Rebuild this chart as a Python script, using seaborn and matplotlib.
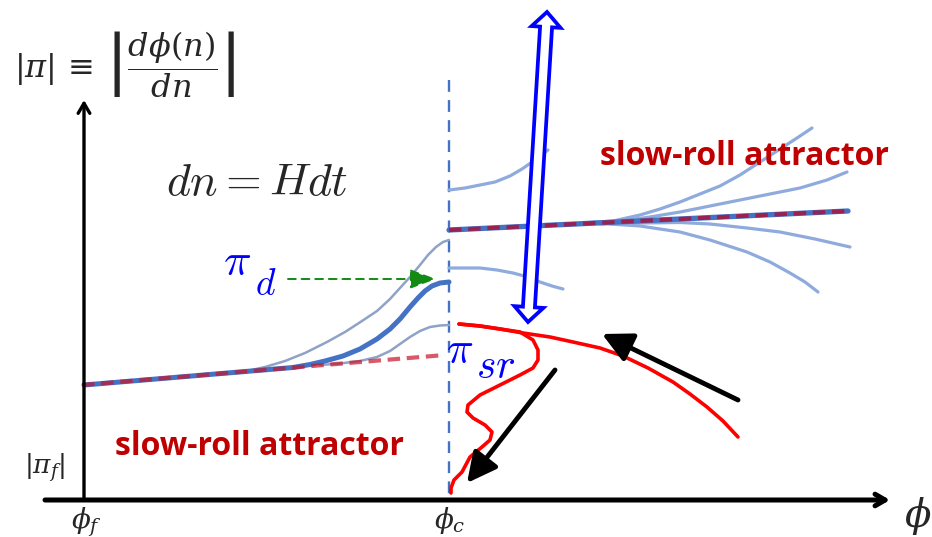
import numpy as np
import pandas as pd
import matplotlib
matplotlib.use("Agg")
import matplotlib.pyplot as plt
from matplotlib.patches import Polygon
import seaborn as sns

sns.set_theme(style="white")
plt.rcParams["font.family"] = ["Open Sans", "DejaVu Sans"]

# ---- phase-space trajectories (phi on x, |pi| on y; canvas units) ----
# slow-roll attractor before phi_c
attr_left_x = [82, 445]
attr_left_y = [385, 355]
# trajectory that reaches pi_d at phi_c
pid_x = [84, 150, 200, 250, 293, 310, 325, 343, 360, 377, 390, 400, 410, 418, 425, 432, 440, 449]
pid_y = [385, 379.5, 375.3, 371.1, 367.5, 364.5, 361, 356, 349, 339, 329, 319, 307, 298, 291, 286, 283, 282]
# neighbouring trajectories
upper_x = [247, 265, 285, 305, 327, 345, 362, 377, 390, 400, 410, 420, 428, 436, 443, 449]
upper_y = [371, 367, 361, 353, 342, 332, 321, 311, 299, 288, 277, 265, 255, 247, 242, 240]
lower_x = [320, 340, 360, 377, 390, 400, 410, 420, 430, 440, 449]
lower_y = [365, 363.5, 361, 357, 351, 344, 337, 331, 327, 325.5, 325]

# slow-roll attractor after phi_c and the trajectories fanning out of it
attr_right_x = [449, 848]
attr_right_y = [230, 211]
fan1_x = [590, 613, 640, 660, 680, 700, 720, 740, 760, 780, 797, 812]
fan1_y = [222.5, 221, 215, 209, 202, 194, 186, 175, 162, 149, 138, 128]
fan2_x = [620, 650, 680, 710, 740, 770, 800, 827, 847]
fan2_y = [221, 217, 212, 206, 200, 194, 188, 180, 172]
fan3_x = [600, 640, 680, 710, 747, 780, 815, 850]
fan3_y = [224, 223, 222.5, 224, 228, 232, 239, 247]
fan4_x = [610, 640, 680, 710, 747, 770, 790, 805, 818]
fan4_y = [224, 226, 232, 240, 252, 262, 273, 282, 292]
post_up_x = [449, 465, 480, 495, 510, 522, 535, 548]
post_up_y = [190, 188, 185, 182, 176, 169, 160, 150]
post_lo_x = [449, 465, 480, 497, 513, 528, 540, 552, 563]
post_lo_y = [268, 268, 268, 270, 273, 277, 282, 286, 289]

# red trajectories near phi_c
arc_x = [459, 480, 500, 523, 550, 573, 600, 623, 648, 673, 690, 707, 723, 738]
arc_y = [324, 326, 329, 333, 337, 342, 348, 356, 368, 382, 394, 407, 421, 437]
wig_x = [459, 480, 500, 520, 533, 538, 538, 533, 520, 500, 480, 468, 467, 473, 485, 492,
         490, 482, 470, 462, 454, 451, 451]
wig_y = [324, 326, 329, 332, 340, 350, 360, 368, 375, 385, 395, 405, 412, 418, 425, 432,
         440, 447, 457, 472, 480, 488, 493]

# axes and markers
phi_f, phi_c = 84, 449
axis_y0 = 500

BLUE = "#4472C4"
LIGHT = "#8FAADC"
GREYBLUE = "#8EA3C6"
DARKRED = "#C00000"

fig = plt.figure(figsize=(9.32, 5.37), dpi=100)
ax = fig.add_axes([0, 0, 1, 1])
ax.set_xlim(0, 932)
ax.set_ylim(537, 0)
ax.axis("off")


def curve(xs, ys, **kw):
    df = pd.DataFrame({"x": xs, "y": ys})
    sns.lineplot(data=df, x="x", y="y", sort=False, estimator=None, ax=ax,
                 solid_capstyle="round", solid_joinstyle="round", **kw)


# axes
ax.annotate("", xy=(890, axis_y0), xytext=(45, axis_y0),
            arrowprops=dict(arrowstyle="->,head_length=0.6,head_width=0.35",
                            lw=3.6, color="black", shrinkA=0, shrinkB=0))
ax.annotate("", xy=(phi_f, 100), xytext=(phi_f, axis_y0),
            arrowprops=dict(arrowstyle="->,head_length=0.6,head_width=0.35",
                            lw=2.4, color="black", shrinkA=0, shrinkB=0))

# phi_c marker
curve([phi_c, phi_c], [80, axis_y0], color=BLUE, lw=1.7, linestyle=(0, (5, 3.5)))

# left side
curve(upper_x, upper_y, color=GREYBLUE, lw=1.8)
curve(lower_x, lower_y, color=GREYBLUE, lw=1.8)
curve(pid_x, pid_y, color=BLUE, lw=3.6)
curve(attr_left_x, attr_left_y, color="#C81428", alpha=0.7, lw=3.0,
      linestyle=(0, (3, 1.6)))

# right side
for fx, fy in [(fan1_x, fan1_y), (fan2_x, fan2_y), (fan3_x, fan3_y),
               (fan4_x, fan4_y), (post_up_x, post_up_y), (post_lo_x, post_lo_y)]:
    curve(fx, fy, color=LIGHT, lw=2.3)
curve(attr_right_x, attr_right_y, color=BLUE, lw=3.8)
curve(attr_right_x, attr_right_y, color="#A8163F", alpha=0.85, lw=3.0,
      linestyle=(0, (3, 1.6)))

# red trajectories
curve(wig_x, wig_y, color="#FF0000", lw=2.6)
curve(arc_x, arc_y, color="#FF0000", lw=2.6)

# flow arrows
for tail, tip in [((738, 400), (602, 334)), ((555, 370), (467, 483))]:
    ax.annotate("", xy=tip, xytext=tail,
                arrowprops=dict(arrowstyle="-|>,head_length=0.75,head_width=0.38",
                                lw=3.5, color="black", mutation_scale=24,
                                shrinkA=0, shrinkB=0))

# pi_d pointer
ax.annotate("", xy=(436, 279), xytext=(288, 279),
            arrowprops=dict(arrowstyle="-|>,head_length=0.8,head_width=0.3",
                            lw=1.4, color="#138A13", linestyle=(0, (4, 3)),
                            mutation_scale=20, shrinkA=0, shrinkB=0))


# hollow double-headed arrow
def hollow_double_arrow(p0, p1, shaft_w, head_w, head_len, **kw):
    p0 = np.asarray(p0, float)
    p1 = np.asarray(p1, float)
    u = (p1 - p0) / np.hypot(*(p1 - p0))
    n = np.array([-u[1], u[0]])
    a, b = p0 + u * head_len, p1 - u * head_len
    pts = [p0, a + n * head_w / 2, a + n * shaft_w / 2, b + n * shaft_w / 2,
           b + n * head_w / 2, p1, b - n * head_w / 2, b - n * shaft_w / 2,
           a - n * shaft_w / 2, a - n * head_w / 2]
    ax.add_patch(Polygon(pts, closed=True, **kw))


hollow_double_arrow((528, 322), (547, 12), 12, 29, 15,
                    facecolor="white", edgecolor="#0000FF", lw=2.7,
                    joinstyle="miter", zorder=5)

# labels
ax.text(125, 64, r"$|\pi|\,\equiv\,\left|\dfrac{d\phi(n)}{dn}\right|$",
        fontsize=23, ha="center", va="center", math_fontfamily="dejavuserif")
ax.text(257, 195, r"$dn = Hdt$", fontsize=33, ha="center", va="baseline",
        math_fontfamily="cm")
ax.text(223, 275, r"$\pi$", fontsize=33, ha="left", va="baseline",
        color="#0000FF", math_fontfamily="cm")
ax.text(255, 295, r"$d$", fontsize=27, ha="left", va="baseline",
        color="#0000FF", math_fontfamily="cm")
ax.text(446, 363, r"$\pi$", fontsize=32, ha="left", va="baseline",
        color="#0000FF", math_fontfamily="cm", zorder=6)
ax.text(476, 378, r"$sr$", fontsize=30, ha="left", va="baseline",
        color="#0000FF", math_fontfamily="cm", zorder=6)
ax.text(115, 455, "slow-roll attractor", fontsize=23, fontweight="bold",
        color=DARKRED, ha="left", va="baseline")
ax.text(600, 165, "slow-roll attractor", fontsize=23, fontweight="bold",
        color=DARKRED, ha="left", va="baseline")
ax.text(45, 468, r"$|\pi_f|$", fontsize=19, ha="center", va="center",
        math_fontfamily="dejavuserif")
ax.text(phi_f + 3, 522, r"$\phi_f$", fontsize=20, ha="center", va="center",
        math_fontfamily="dejavuserif")
ax.text(phi_c + 1, 520, r"$\phi_c$", fontsize=20, ha="center", va="center",
        math_fontfamily="dejavuserif")
ax.text(918, 516, r"$\phi$", fontsize=28, ha="center", va="center",
        math_fontfamily="dejavuserif")

fig.savefig("out.png", dpi=100)
